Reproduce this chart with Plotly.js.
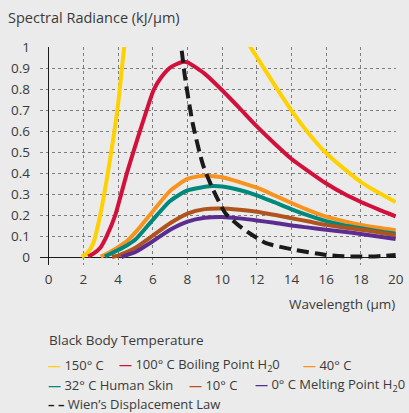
<!DOCTYPE html>
<html><head><meta charset="utf-8">
<script src="https://cdn.plot.ly/plotly-3.0.1.min.js"></script>
<style>html,body{margin:0;padding:0;background:#ebebeb}</style>
</head><body><div id="chart" style="width:409px;height:413px"></div>
<script>
// ---- data ----
const xTicks = [0, 2, 4, 6, 8, 10, 12, 14, 16, 18, 20];
const yTicks = [0, 0.1, 0.2, 0.3, 0.4, 0.5, 0.6, 0.7, 0.8, 0.9, 1];
const yTickText = ['0', '0.1', '0.2', '0.3', '0.4', '0.5', '0.6', '0.7', '0.8', '0.9', '1'];

const seriesNames = ['150° C', '100° C Boiling Point H<sub>2</sub>0', '40° C',
  '32° C Human Skin', '10° C', '0° C Melting Point H<sub>2</sub>0', 'Wien’s Displacement Law'];

// 150° C: rising branch, then falling branch (the peak lies above the plotted range)
const wl150a = [1.9, 2.2, 2.57, 2.95, 3.24, 3.62, 4.0, 4.35, 4.5];
const rad150a = [0.005, 0.02, 0.068, 0.194, 0.32, 0.51, 0.73, 1.0, 1.1];
const wl150b = [11.3, 11.65, 12, 13, 14, 15, 16, 17, 18, 19, 20];
const rad150b = [1.05, 1.0, 0.955, 0.825, 0.70, 0.59, 0.497, 0.425, 0.36, 0.31, 0.265];

const wl100 = [2.28, 2.6, 3.0, 3.33, 3.83, 4.17, 4.5, 4.87, 5.25, 5.64, 6.06, 6.5, 7.0, 7.7, 8.0, 9, 10, 11, 12, 13, 14, 15, 16, 17, 18, 19, 20];
const rad100 = [0.005, 0.02, 0.05, 0.1, 0.2, 0.3, 0.4, 0.5, 0.6, 0.7, 0.8, 0.86, 0.905, 0.932, 0.93, 0.875, 0.797, 0.712, 0.625, 0.545, 0.47, 0.41, 0.353, 0.305, 0.265, 0.23, 0.197];

const wl40 = [3.0, 3.5, 4, 4.5, 5, 6, 7, 8, 8.9, 10, 11, 12, 13, 14, 15, 16, 17, 18, 19, 20];
const rad40 = [0.005, 0.025, 0.05, 0.078, 0.12, 0.22, 0.318, 0.375, 0.39, 0.383, 0.36, 0.333, 0.297, 0.26, 0.225, 0.195, 0.174, 0.156, 0.142, 0.13];

const wl32 = [3.24, 3.6, 4, 4.5, 5, 6, 7, 8, 9.4, 10, 11, 12, 13, 14, 15, 16, 17, 18, 19, 20];
const rad32 = [0.005, 0.02, 0.036, 0.058, 0.086, 0.18, 0.27, 0.32, 0.341, 0.339, 0.322, 0.297, 0.264, 0.23, 0.2, 0.174, 0.155, 0.14, 0.126, 0.114];

const wl10 = [3.65, 4, 4.5, 5, 6, 7, 8, 9, 9.95, 11, 12, 13, 14, 15, 16, 17, 18, 19, 20];
const rad10 = [0.003, 0.01, 0.026, 0.047, 0.105, 0.164, 0.21, 0.231, 0.234, 0.228, 0.219, 0.204, 0.188, 0.172, 0.156, 0.144, 0.133, 0.121, 0.106];

const wl0 = [4.2, 4.5, 5, 6, 7, 8, 9, 10, 11, 12, 13, 14, 15, 16, 17, 18, 19, 20];
const rad0 = [0.003, 0.012, 0.027, 0.078, 0.133, 0.172, 0.19, 0.194, 0.187, 0.177, 0.166, 0.153, 0.143, 0.133, 0.123, 0.113, 0.101, 0.089];

const wlWien = [7.55, 7.65, 7.84, 8.3, 8.9, 9.5, 10.2, 11, 11.6, 12.5, 14, 16, 17, 18, 19, 20];
const radWien = [1.07, 1.0, 0.87, 0.64, 0.44, 0.32, 0.21, 0.15, 0.115, 0.07, 0.04, 0.013, 0.007, 0.005, 0.007, 0.013];

const colors = ['#ffd100', '#d2103c', '#f7931e', '#00897b', '#b0531c', '#5b2d90', '#1a1a1a'];

// ---- traces ----
function curve(x, y, color, dash) {
  return {x: x, y: y, type: 'scatter', mode: 'lines', showlegend: false, hoverinfo: 'skip',
    line: {color: color, width: 4, shape: 'spline', smoothing: 0.6, dash: dash || 'solid'}};
}
const traces = [
  curve(wl150a, rad150a, colors[0]),
  curve(wl150b, rad150b, colors[0]),
  curve(wl100, rad100, colors[1]),
  curve(wl40, rad40, colors[2]),
  curve(wl32, rad32, colors[3]),
  curve(wl10, rad10, colors[4]),
  curve(wl0, rad0, colors[5]),
  curve(wlWien, radWien, colors[6], '12px,6px')
];

// ---- layout ----
const W = 409, H = 413;
const L = 40, R = 12.7, T = 46.7, B = 147.9;
const plotW = W - L - R, plotH = H - T - B;
const px2x = p => (p - L) / plotW;
const py2y = p => (H - B - p) / plotH;
const FONT = 'Open Sans, Noto Sans, sans-serif';
const TXT = '#3a3a3a';
const LEGSIZE = 13;

const legendRows = [
  [[0, 47], [1, 118.5], [2, 302.5]],
  [[3, 47], [4, 188.5], [5, 254]],
  [[6, 47]]
];
const rowY = [365.5, 385.5, 404.5];
const annotations = [];
legendRows.forEach((row, r) => row.forEach(([i, px]) => {
  const sym = i === 6 ? '– –' : '—';
  annotations.push({xref: 'paper', yref: 'paper', x: px2x(px), y: py2y(rowY[r]),
    xanchor: 'left', yanchor: 'middle', showarrow: false, borderpad: 0,
    text: '<span style="color:' + colors[i] + '"><b>' + sym + '</b></span> ' + seriesNames[i],
    font: {family: FONT, size: LEGSIZE, color: TXT}});
}));
annotations.push({xref: 'paper', yref: 'paper', x: px2x(48), y: py2y(340), xanchor: 'left', yanchor: 'middle',
  showarrow: false, borderpad: 0, text: 'Black Body Temperature', font: {family: FONT, size: 13.5, color: TXT}});
annotations.push({xref: 'paper', yref: 'paper', x: 1, y: py2y(304), xanchor: 'right', yanchor: 'middle',
  showarrow: false, borderpad: 0, text: 'Wavelength (µm)', font: {family: FONT, size: 13.5, color: TXT}});

const layout = {
  width: W, height: H,
  margin: {l: L, r: R, t: T, b: B, pad: 0},
  paper_bgcolor: '#ebebeb', plot_bgcolor: '#ebebeb',
  font: {family: FONT, size: 13.5, color: TXT},
  title: {text: 'Spectral Radiance (kJ/µm)', xref: 'container', yref: 'container',
    x: 8 / W, xanchor: 'left', y: 1 - 18 / H, yanchor: 'middle',
    font: {family: FONT, size: 14.5, color: TXT}},
  showlegend: false,
  xaxis: {range: [-0.5, 20.02], tickvals: xTicks, ticktext: xTicks.map(String), ticks: '',
    showgrid: true, gridcolor: '#7d7d7d', griddash: 'dot', gridwidth: 1,
    zeroline: true, zerolinecolor: '#1a1a1a', zerolinewidth: 1.5, showline: false,
    ticklabelstandoff: 4, fixedrange: true, tickfont: {size: 13.5, color: TXT}},
  yaxis: {range: [-0.035, 1.003], tickvals: yTicks, ticktext: yTickText, ticks: '',
    showgrid: true, gridcolor: '#7d7d7d', griddash: 'dot', gridwidth: 1,
    zeroline: true, zerolinecolor: '#1a1a1a', zerolinewidth: 1.5, showline: false,
    ticklabelstandoff: 9, fixedrange: true, tickfont: {size: 13.5, color: TXT}},
  annotations: annotations
};

Plotly.newPlot('chart', traces, layout, {displayModeBar: false, staticPlot: true});
</script></body></html>
